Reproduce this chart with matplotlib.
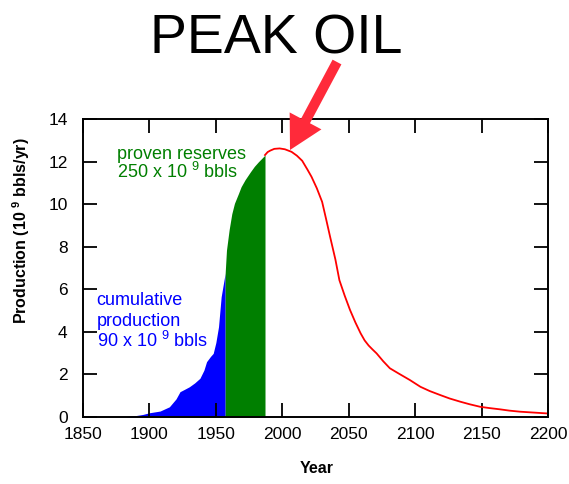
import matplotlib
matplotlib.use("Agg")
import matplotlib.pyplot as plt
from matplotlib.patches import FancyArrow

plt.rcParams['font.family'] = ['Liberation Sans', 'DejaVu Sans']
plt.rcParams['mathtext.fontset'] = 'custom'
plt.rcParams['mathtext.rm'] = 'Liberation Sans'
plt.rcParams['mathtext.bf'] = 'Liberation Sans:bold'

# Historical production (cumulative, blue)
hist_years = [1883, 1890, 1895, 1900, 1908, 1915, 1920, 1923, 1927, 1930, 1934, 1938,
              1941, 1943, 1946, 1948, 1950, 1952, 1954, 1957]
hist_prod = [0.03, 0.07, 0.12, 0.20, 0.28, 0.48, 0.85, 1.19, 1.32, 1.42, 1.60, 1.82,
             2.20, 2.60, 2.85, 2.99, 3.50, 4.24, 5.65, 6.75]

# Proven reserves (green)
res_years = [1957, 1958, 1960, 1962, 1964, 1967, 1969, 1972, 1976, 1979, 1982, 1985, 1987]
res_prod = [6.75, 7.84, 8.80, 9.55, 10.04, 10.50, 10.82, 11.15, 11.52, 11.78, 11.99, 12.18, 12.31]

# Forecast curve (red)
fc_years = [1987, 1989, 1991, 1994, 1998, 2002, 2007, 2011, 2015, 2019, 2022, 2026, 2030,
            2033, 2036, 2040, 2043, 2047, 2051, 2055, 2059, 2062, 2065, 2068, 2071, 2076,
            2081, 2088, 2096, 2104, 2111, 2119, 2126, 2134, 2141, 2149, 2156, 2164, 2171,
            2179, 2189, 2199]
fc_prod = [12.31, 12.45, 12.52, 12.60, 12.62, 12.58, 12.46, 12.28, 12.04, 11.62, 11.29,
           10.75, 10.11, 9.30, 8.47, 7.40, 6.43, 5.70, 5.03, 4.45, 3.93, 3.60, 3.36, 3.17,
           2.99, 2.62, 2.29, 2.03, 1.74, 1.42, 1.22, 1.03, 0.87, 0.72, 0.60, 0.48, 0.42,
           0.36, 0.30, 0.25, 0.21, 0.17]

x_ticks = [1850, 1900, 1950, 2000, 2050, 2100, 2150, 2200]
y_ticks = [0, 2, 4, 6, 8, 10, 12, 14]

fig = plt.figure(figsize=(5.69, 4.84), dpi=100)
ax = fig.add_axes([0.1459, 0.1384, 0.8171, 0.6156])

ax.fill_between(hist_years, 0, hist_prod, color='#0000ff', lw=0)
ax.fill_between(res_years, 0, res_prod, color='#007f00', lw=0)
ax.plot(fc_years, fc_prod, color='#ff0000', lw=1.3)

ax.set_xlim(1850, 2200)
ax.set_ylim(0, 14)
ax.set_xticks(x_ticks)
ax.set_yticks(y_ticks)
ax.tick_params(direction='in', length=10, width=1.3, top=True, right=True,
               labelsize=12.5)
ax.tick_params(axis='x', pad=7)
ax.tick_params(axis='y', pad=11)
for s in ax.spines.values():
    s.set_linewidth(1.4)

ax.set_xlabel('Year', fontsize=11.5, fontweight='bold')
ax.xaxis.set_label_coords(0.503, -0.148)
ax.set_ylabel(r'Production (10 $^{\mathbf{9}}$ bbls/yr)', fontsize=11.5, fontweight='bold')
ax.yaxis.set_label_coords(-0.110, 0.627)

ax.text(1875.3, 12.12, 'proven reserves', color='#007f00', fontsize=13, va='baseline')
ax.text(1875.3, 11.23, r'250 x 10 $^{9}$ bbls', color='#007f00', fontsize=13, va='baseline')

ax.text(1860.3, 5.26, 'cumulative', color='#0000ff', fontsize=13, va='baseline')
ax.text(1860.3, 4.30, 'production', color='#0000ff', fontsize=13, va='baseline')
ax.text(1860.3, 3.30, r'90 x 10 $^{9}$ bbls', color='#0000ff', fontsize=13, va='baseline')

fig.text(276 / 569, 1 - 39 / 484, 'PEAK OIL', fontsize=40, ha='center', va='center')

# Arrow in figure pixel coordinates
W, H = 569, 484
ax2 = fig.add_axes([0, 0, 1, 1], facecolor='none')
ax2.set_xlim(0, W)
ax2.set_ylim(H, 0)
ax2.axis('off')
arr = FancyArrow(337, 62, 290 - 337, 150 - 62, width=10, head_width=36, head_length=33,
                 length_includes_head=True, color='#ff2a3a', lw=0)
ax2.add_patch(arr)

fig.savefig('out.png', dpi=100)
